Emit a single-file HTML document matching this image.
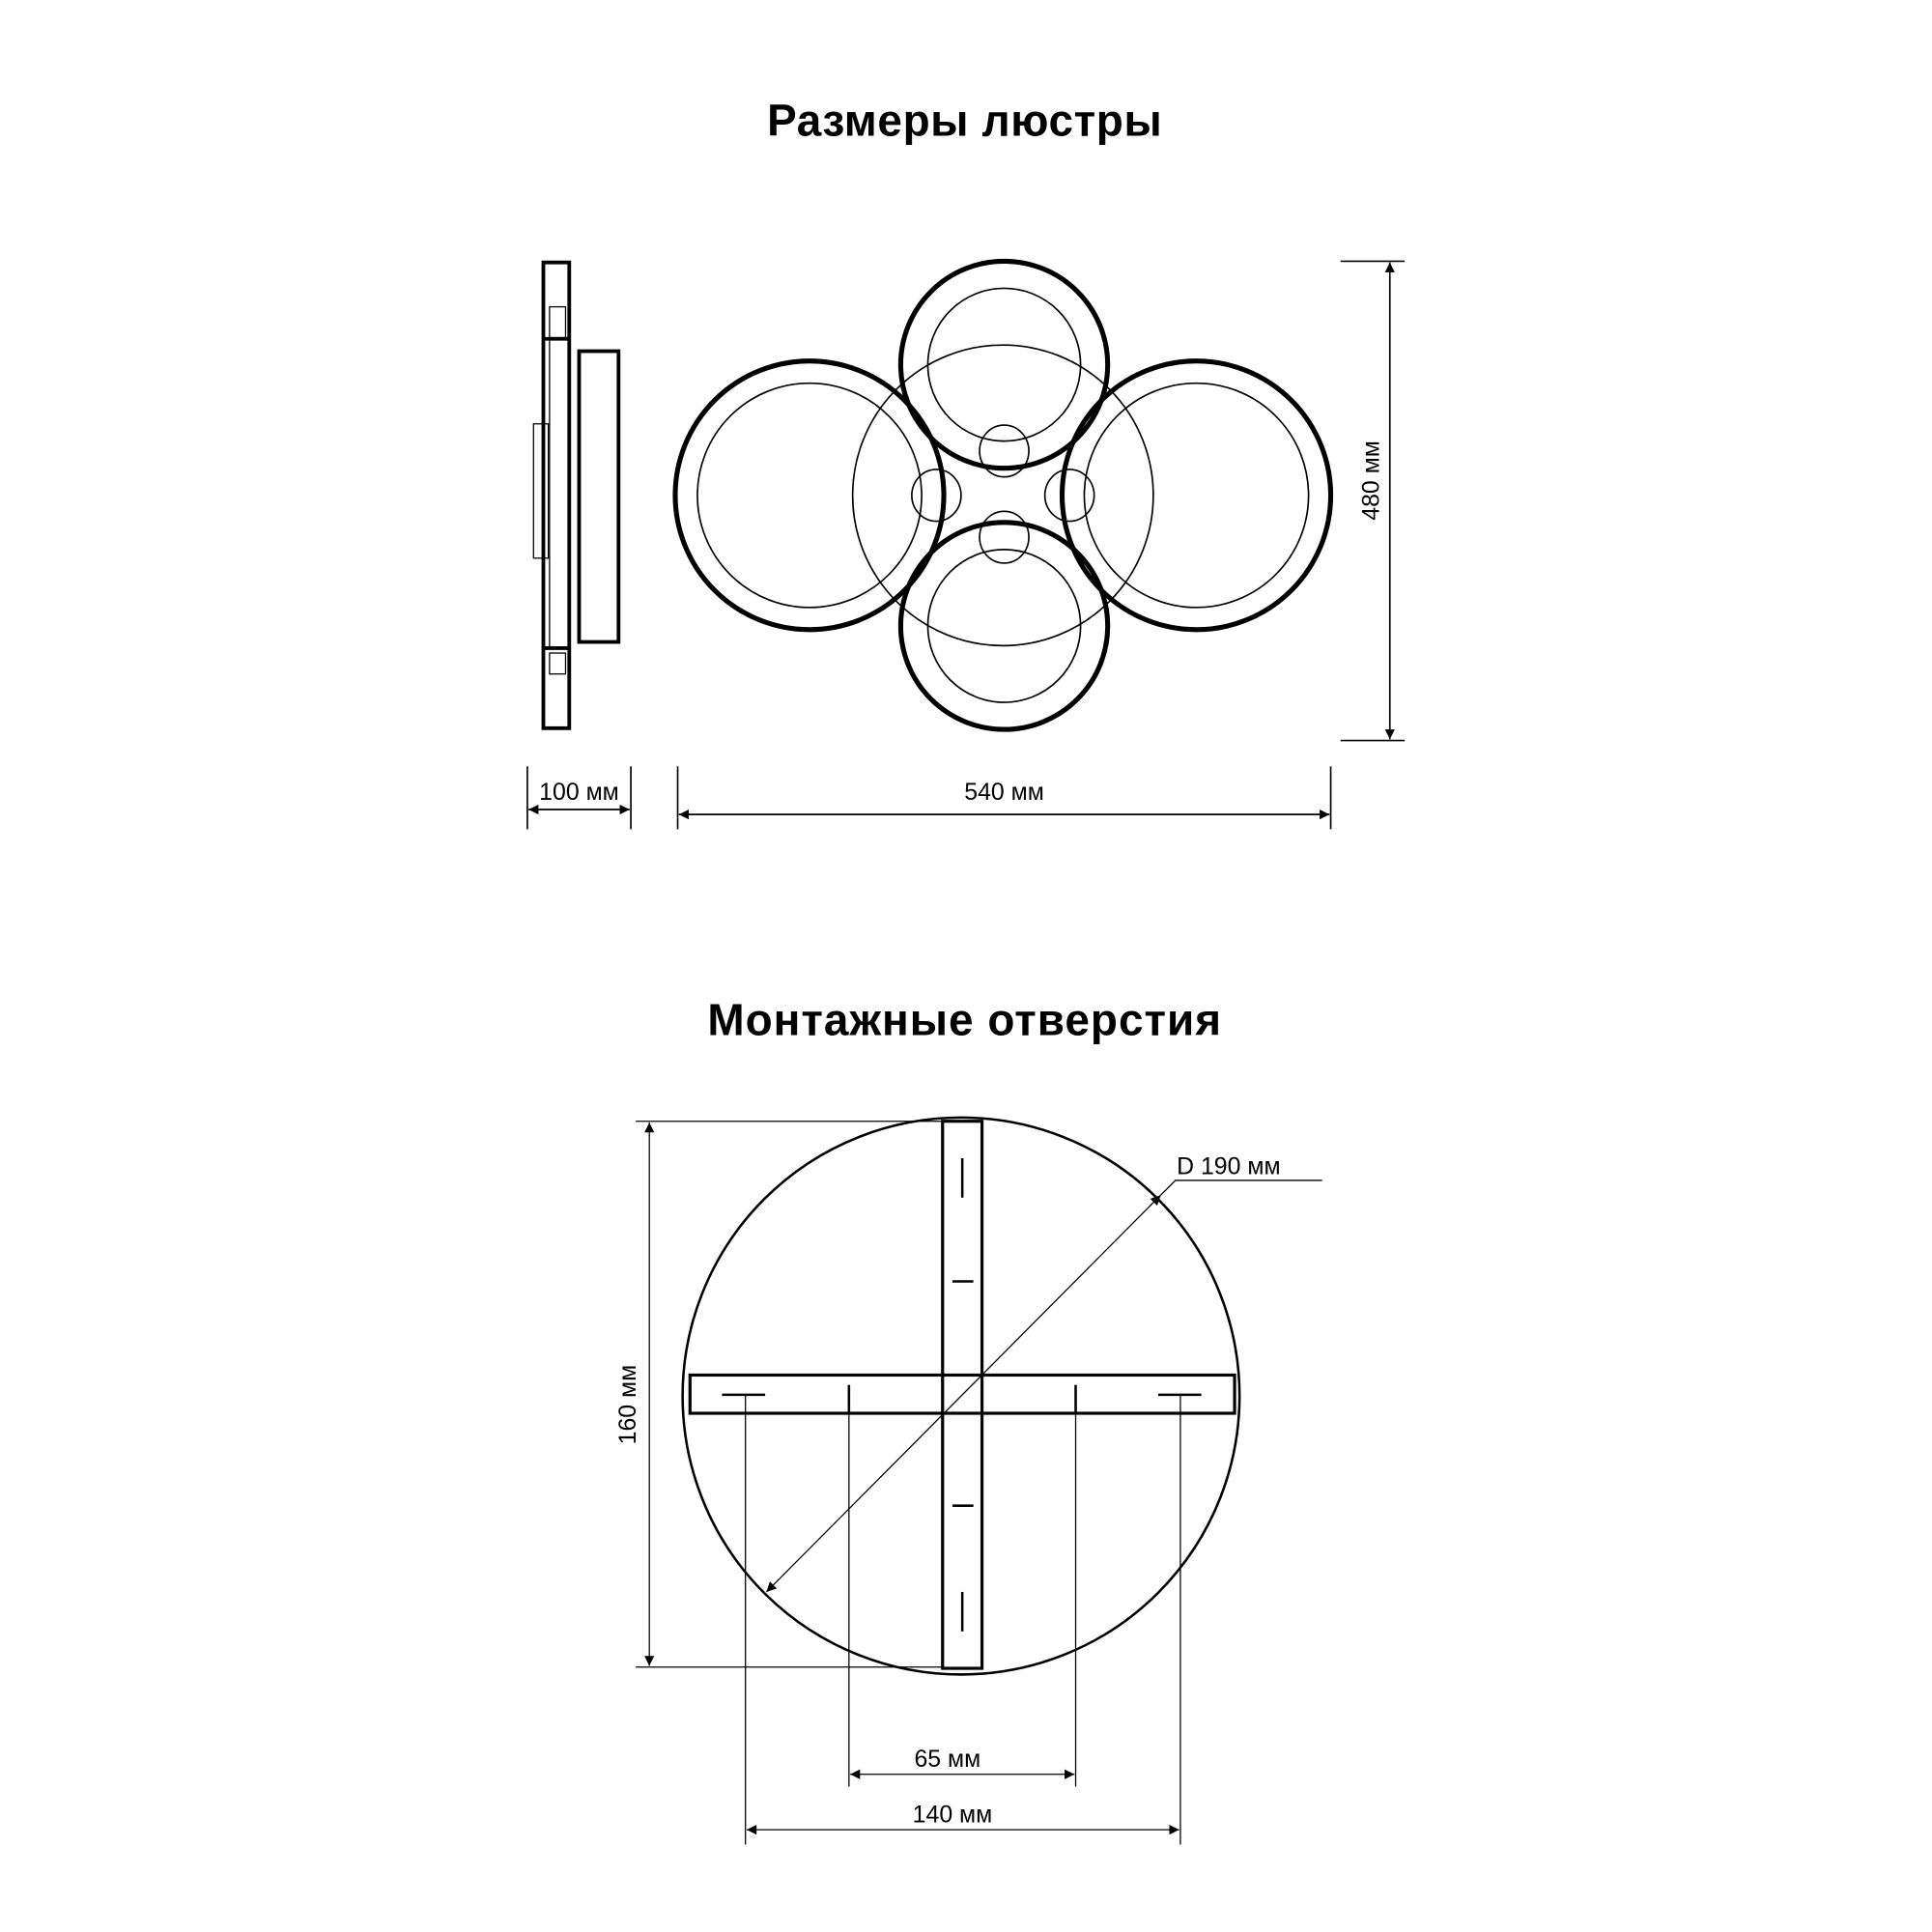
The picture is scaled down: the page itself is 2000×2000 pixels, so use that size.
<!DOCTYPE html>
<html><head><meta charset="utf-8"><style>html,body{margin:0;padding:0;background:#fff}svg{display:block}</style></head>
<body>
<svg width="2000" height="2000" viewBox="0 0 1568 1568" xmlns="http://www.w3.org/2000/svg" font-family="Liberation Sans, sans-serif">
<defs>
<marker id="a" viewBox="0 0 10 10" refX="10" refY="5" markerWidth="10" markerHeight="8" orient="auto-start-reverse" markerUnits="userSpaceOnUse"><path d="M0,0L10,5L0,10z" fill="#000"/></marker>
</defs>
<rect width="1568" height="1568" fill="#fff"/>
<text x="783" y="110" font-size="36" font-weight="bold" text-anchor="middle" letter-spacing="0.5">Размеры люстры</text>
<g fill="none" stroke="#000">
<rect x="441" y="213" width="21" height="378" stroke-width="3"/>
<line x1="441" y1="275" x2="462" y2="275" stroke-width="3"/>
<line x1="441" y1="526" x2="462" y2="526" stroke-width="3"/>
<rect x="446" y="249" width="13" height="25" stroke-width="1"/>
<rect x="446" y="530" width="13" height="17" stroke-width="1"/>
<line x1="446" y1="275" x2="446" y2="526" stroke-width="1"/>
<rect x="433" y="344" width="12" height="109" stroke-width="1"/>
<rect x="470" y="285" width="32" height="236" stroke-width="3"/>
<circle cx="814" cy="402" r="122" stroke-width="1.3"/>
<circle cx="657" cy="402" r="109" stroke-width="4"/>
<circle cx="657" cy="402" r="91" stroke-width="1.3"/>
<circle cx="971" cy="402" r="109" stroke-width="4"/>
<circle cx="971" cy="402" r="91" stroke-width="1.3"/>
<circle cx="815" cy="296" r="84" stroke-width="4"/>
<circle cx="815" cy="296" r="62" stroke-width="1.3"/>
<circle cx="815" cy="508" r="84" stroke-width="4"/>
<circle cx="815" cy="508" r="62" stroke-width="1.3"/>
<ellipse cx="815" cy="366" rx="20" ry="21" stroke-width="1.3"/>
<ellipse cx="815" cy="436" rx="20" ry="21" stroke-width="1.3"/>
<ellipse cx="760" cy="402" rx="20" ry="21" stroke-width="1.3"/>
<ellipse cx="868" cy="402" rx="20" ry="21" stroke-width="1.3"/>
<g stroke-width="1.3">
<line x1="428" y1="622" x2="428" y2="673"/><line x1="512" y1="622" x2="512" y2="673"/>
<line x1="429" y1="657" x2="511" y2="657" marker-start="url(#a)" marker-end="url(#a)"/>
<line x1="550" y1="622" x2="550" y2="673"/><line x1="1080" y1="622" x2="1080" y2="673"/>
<line x1="551" y1="661" x2="1079" y2="661" marker-start="url(#a)" marker-end="url(#a)"/>
<line x1="1088" y1="212" x2="1140" y2="212"/><line x1="1088" y1="601" x2="1140" y2="601"/>
<line x1="1128" y1="213" x2="1128" y2="600" marker-start="url(#a)" marker-end="url(#a)"/>
</g>
</g>
<text x="470" y="649" font-size="19.5" text-anchor="middle">100 мм</text>
<text x="815" y="649" font-size="19.5" text-anchor="middle">540 мм</text>
<text transform="translate(1119,390) rotate(-90)" font-size="19.5" text-anchor="middle">480 мм</text>

<text x="783" y="840" font-size="36" font-weight="bold" text-anchor="middle" letter-spacing="0.8">Монтажные отверстия</text>
<g fill="none" stroke="#000">
<circle cx="780" cy="1133" r="226" stroke-width="2"/>
<rect x="765" y="910" width="32" height="444" stroke-width="2.5"/>
<rect x="560" y="1116" width="442" height="31" stroke-width="2.5"/>
<line x1="781" y1="940" x2="781" y2="972" stroke-width="2"/>
<line x1="781" y1="1292" x2="781" y2="1324" stroke-width="2"/>
<line x1="773" y1="1040" x2="790" y2="1040" stroke-width="2"/>
<line x1="773" y1="1222" x2="790" y2="1222" stroke-width="2"/>
<line x1="586" y1="1132" x2="621" y2="1132" stroke-width="2"/>
<line x1="940" y1="1132" x2="975" y2="1132" stroke-width="2"/>
<line x1="689" y1="1124" x2="689" y2="1147" stroke-width="2"/>
<line x1="873" y1="1124" x2="873" y2="1147" stroke-width="2"/>
<g stroke-width="1">
<line x1="516" y1="910" x2="765" y2="910"/><line x1="516" y1="1353" x2="765" y2="1353"/>
<line x1="527" y1="911" x2="527" y2="1352" marker-start="url(#a)" marker-end="url(#a)"/>
<line x1="622" y1="1292" x2="942" y2="970" marker-start="url(#a)" marker-end="url(#a)"/>
<polyline points="942,970 954,958 1073,958"/>
<line x1="689" y1="1147" x2="689" y2="1450"/><line x1="873" y1="1147" x2="873" y2="1450"/>
<line x1="690" y1="1440" x2="872" y2="1440" marker-start="url(#a)" marker-end="url(#a)"/>
<line x1="605" y1="1132" x2="605" y2="1497"/><line x1="958" y1="1132" x2="958" y2="1497"/>
<line x1="606" y1="1485" x2="957" y2="1485" marker-start="url(#a)" marker-end="url(#a)"/>
</g>
</g>
<text x="955" y="953" font-size="19.5">D 190 мм</text>
<text x="769" y="1434" font-size="19.5" text-anchor="middle">65 мм</text>
<text x="773" y="1479" font-size="19.5" text-anchor="middle">140 мм</text>
<text transform="translate(516,1140) rotate(-90)" font-size="19.5" text-anchor="middle">160 мм</text>
</svg>
</body></html>
